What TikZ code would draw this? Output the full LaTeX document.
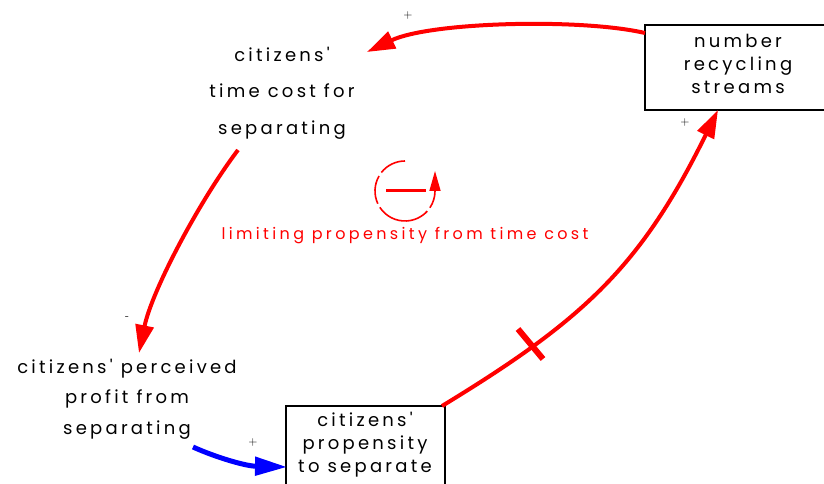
\documentclass[tikz,border=0pt]{standalone}
\usepackage{fontspec}
\newfontfamily\cfont[LetterSpace=18]{Poppins}
\newfontfamily\lfont[LetterSpace=21]{Poppins}
\usetikzlibrary{arrows.meta}
\definecolor{vred}{RGB}{255,0,0}
\definecolor{vblue}{RGB}{0,0,255}
\begin{document}
\begin{tikzpicture}[x=1bp,y=-1bp,
  txt/.style={align=center,inner sep=0pt,font=\cfont\fontsize{18bp}{36.5bp}\selectfont},
  txtb/.style={align=center,inner sep=0pt,font=\cfont\fontsize{18bp}{30.5bp}\selectfont},
  boxtxt/.style={align=center,inner sep=0pt,font=\cfont\fontsize{18bp}{23bp}\selectfont},
  frame/.style={draw,line width=1.2bp,inner sep=0pt},
  sign/.style={inner sep=0pt,font=\fontsize{12bp}{12bp}\selectfont},
  link/.style={vred,line width=4bp,-{Triangle[length=28bp,width=18bp]}},
  blink/.style={vblue,line width=5bp,-{Triangle[length=32bp,width=18bp]}},
  loopline/.style={vred,line width=1.6bp},
]
\useasboundingbox (0,0) rectangle (824,484);
% nodes
\node[txt] (tc) at (282,93) {citizens'\\time cost for\\separating};
\node[txtb] (pp) at (127,399) {citizens' perceived\\profit from\\separating};
\node[frame,minimum width=182bp,minimum height=85bp] (nrbox) at (736,67.5) {};
\node[boxtxt] (nr) at (738,64) {number\\recycling\\streams};
\node[frame,minimum width=159bp,minimum height=90bp] (psbox) at (365.5,451) {};
\node[boxtxt] (ps) at (365,445) {citizens'\\propensity\\to separate};
% connector end points
\coordinate (a1s) at (645,33);
\coordinate (a1e) at (367,52);
\coordinate (a2s) at (238,150);
\coordinate (a2e) at (139,353);
\coordinate (a3s) at (193,447);
\coordinate (a3e) at (287,467);
\coordinate (a4s) at (442,406);
\coordinate (a4e) at (718,110);
% connectors
\draw[link] (a1s) .. controls (580,18) and (430,22) .. (a1e);
\draw[link] (a2s) .. controls (200,200) and (152,290) .. (a2e);
\draw[blink] (a3s) .. controls (215,457) and (245,466) .. (a3e);
\draw[link] (a4s) .. controls (585,319) and (641,266) .. (a4e);
% delay mark
\coordinate (d1) at (518,329);
\coordinate (d2) at (543,359);
\draw[vred,line width=6bp] (d1) -- (d2);
% polarity signs
\node[sign] (s1) at (408,16) {+};
\node[sign] (s2) at (685,123) {+};
\node[sign] (s3) at (253,443) {+};
\node[sign] (s4) at (127,318) {-};
% loop symbol
\coordinate (lc) at (405,191);
\draw[loopline] (lc) ++(-90:30) arc[start angle=-90,end angle=-142,radius=30];
\draw[loopline] (lc) ++(-150:30) arc[start angle=-150,end angle=-205,radius=30];
\draw[loopline] (lc) ++(-213:30) arc[start angle=-213,end angle=-318,radius=30];
\draw[loopline,-{Triangle[length=20bp,width=11bp]}] (lc) ++(-326:30) arc[start angle=-326,end angle=-360,radius=30] -- ++(0,-20);
\draw[vred,line width=3bp] (386,191) -- (426,191);
\node[inner sep=0pt,text=vred,font=\lfont\fontsize{16bp}{16bp}\selectfont] (lbl) at (405,236) {limiting propensity from time cost};
\end{tikzpicture}
\end{document}
